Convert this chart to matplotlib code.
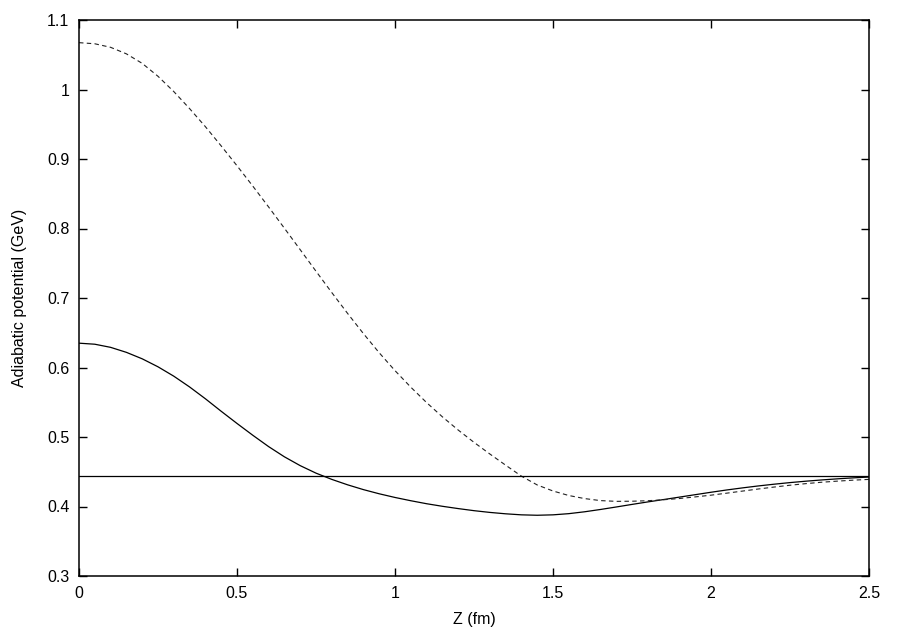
import matplotlib
matplotlib.use("Agg")
import matplotlib.pyplot as plt

z = [0.00, 0.05, 0.10, 0.15, 0.20, 0.25, 0.30, 0.35, 0.40, 0.45,
     0.50, 0.55, 0.60, 0.65, 0.70, 0.75, 0.80, 0.85, 0.90, 0.95,
     1.00, 1.05, 1.10, 1.15, 1.20, 1.25, 1.30, 1.35, 1.40, 1.45,
     1.50, 1.55, 1.60, 1.65, 1.70, 1.75, 1.80, 1.85, 1.90, 1.95,
     2.00, 2.05, 2.10, 2.15, 2.20, 2.25, 2.30, 2.35, 2.40, 2.45, 2.50]
v_solid = [0.6350, 0.6335, 0.6290, 0.6218, 0.6125, 0.6010, 0.5875, 0.5720, 0.5550, 0.5370,
           0.5195, 0.5025, 0.4862, 0.4715, 0.4588, 0.4480, 0.4390, 0.4312, 0.4243, 0.4183,
           0.4130, 0.4083, 0.4040, 0.4003, 0.3970, 0.3940, 0.3915, 0.3895, 0.3880, 0.3874,
           0.3880, 0.3897, 0.3924, 0.3957, 0.3993, 0.4030, 0.4066, 0.4100, 0.4135, 0.4170,
           0.4205, 0.4238, 0.4268, 0.4296, 0.4321, 0.4344, 0.4364, 0.4382, 0.4398, 0.4412, 0.4424]
v_dashed = [1.0674, 1.0658, 1.0607, 1.0513, 1.0376, 1.0190, 0.9970, 0.9725, 0.9465, 0.9188,
            0.8903, 0.8610, 0.8310, 0.8004, 0.7695, 0.7385, 0.7078, 0.6778, 0.6488, 0.6212,
            0.5955, 0.5717, 0.5495, 0.5290, 0.5100, 0.4923, 0.4756, 0.4595, 0.4437, 0.4310,
            0.4223, 0.4158, 0.4114, 0.4085, 0.4074, 0.4076, 0.4083, 0.4097, 0.4115, 0.4138,
            0.4163, 0.4192, 0.4222, 0.4252, 0.4280, 0.4306, 0.4329, 0.4349, 0.4365, 0.4379, 0.4390]
threshold = 0.4435

xticks = [0, 0.5, 1, 1.5, 2, 2.5]
xticklabels = ["0", "0.5", "1", "1.5", "2", "2.5"]
yticks = [0.3, 0.4, 0.5, 0.6, 0.7, 0.8, 0.9, 1.0, 1.1]
yticklabels = ["0.3", "0.4", "0.5", "0.6", "0.7", "0.8", "0.9", "1", "1.1"]

plt.rcParams['font.family'] = ['Liberation Sans', 'DejaVu Sans']

fig = plt.figure(figsize=(8.99, 6.29), dpi=100)
ax = fig.add_axes([79/899, 1 - 576/629, (869-79)/899, (576-20)/629])

ax.plot(z, v_solid, color='black', lw=0.9, solid_joinstyle='round')
ax.plot(z, v_dashed, color='#222222', lw=0.8, dashes=(4, 3))
ax.axhline(threshold, color='black', lw=0.9)

ax.set_xlim(0, 2.5)
ax.set_ylim(0.3, 1.1)
ax.set_xticks(xticks)
ax.set_xticklabels(xticklabels)
ax.set_yticks(yticks)
ax.set_yticklabels(yticklabels)
ax.tick_params(direction='in', length=6, width=1, top=True, right=True,
               labelsize=11.5, pad=7, colors='black')
for s in ax.spines.values():
    s.set_linewidth(1.1)

ax.set_xlabel("Z (fm)", fontsize=11.5, labelpad=8)
ax.set_ylabel("Adiabatic potential (GeV)", fontsize=11.5, labelpad=14)

fig.savefig("out.png", dpi=100)
